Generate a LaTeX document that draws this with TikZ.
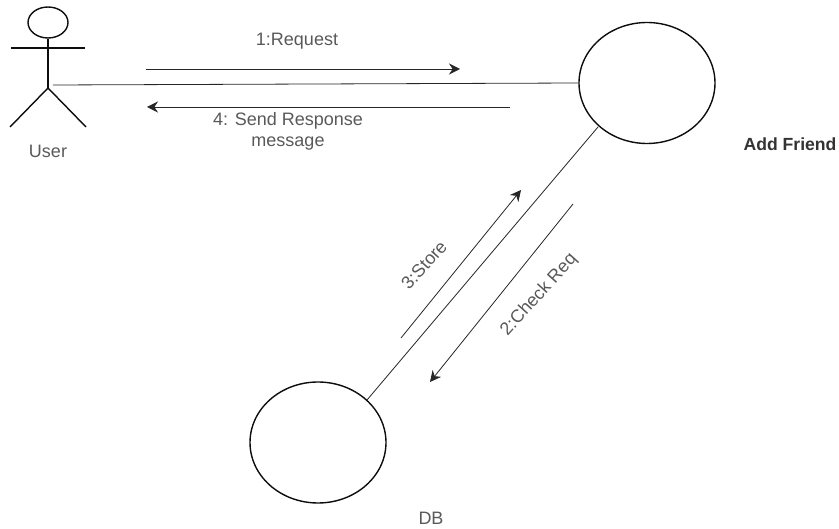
\documentclass[tikz,border=0pt]{standalone}
\usepackage{fontspec}
\setmainfont{Liberation Sans}
\usetikzlibrary{arrows.meta,shapes.geometric}
\tikzset{
  actorline/.style={line width=1.4pt,black!95},
  linkline/.style={line width=.8pt,black!85},
  msgarrow/.style={line width=.8pt,black!85,-{Stealth[length=11pt,width=11pt]}},
  msgtext/.style={font=\fontsize{18pt}{21pt}\selectfont,text=black!65,align=center,inner sep=0pt},
  boldtext/.style={font=\fontsize{17.6pt}{21pt}\selectfont\bfseries,text=black!80,inner sep=0pt}
}

\begin{document}
\begin{tikzpicture}[x=1pt,y=-1pt]
\useasboundingbox (0,0) rectangle (839,529);

% actor
\node[ellipse,draw,actorline,minimum width=40pt,minimum height=31pt,inner sep=0pt] (head) at (48,22.5) {};
\coordinate (hip) at (48,88);
\coordinate (armL) at (11,48);
\coordinate (armR) at (85,48);
\coordinate (footL) at (10,127);
\coordinate (footR) at (86,127);
\draw[actorline] (head.south) -- (hip);
\draw[actorline] (armL) -- (armR);
\draw[actorline] (footL) -- (hip) -- (footR);
\node[msgtext] (user) at (48,151) {User};

% use cases
\node[ellipse,draw,actorline,minimum width=136pt,minimum height=121pt,inner sep=0pt] (add) at (647,83) {};
\node[ellipse,draw,actorline,minimum width=136pt,minimum height=121pt,inner sep=0pt] (db) at (318,442.5) {};
\node[boldtext] (addlabel) at (790,144) {Add Friend};
\node[msgtext] (dblabel) at (431,518) {DB};

% links
\coordinate (userhand) at (53,85);
\coordinate (addfoot) at (598,127);
\coordinate (dbtop) at (367,400);
\draw[linkline] (userhand) -- (add.west);
\draw[linkline] (addfoot) -- (dbtop);

% messages
\coordinate (a1s) at (146,69);
\coordinate (a1e) at (460,69);
\coordinate (a4s) at (510,107);
\coordinate (a4e) at (147,107);
\coordinate (a3s) at (401,338);
\coordinate (a3e) at (521,190);
\coordinate (a2s) at (573,204);
\coordinate (a2e) at (430,382);
\draw[msgarrow] (a1s) -- (a1e);
\draw[msgarrow] (a4s) -- (a4e);
\draw[msgarrow] (a3s) -- (a3e);
\draw[msgarrow] (a2s) -- (a2e);

\node[msgtext] (req) at (297,41) {1:Request};
\node[msgtext] (resp) at (288,131) {4: Send Response\\message};
\node[msgtext,rotate=48] (store) at (424,265) {3:Store};
\node[msgtext,rotate=48] (check) at (539,295) {2:Check Req};

\end{tikzpicture}
\end{document}
